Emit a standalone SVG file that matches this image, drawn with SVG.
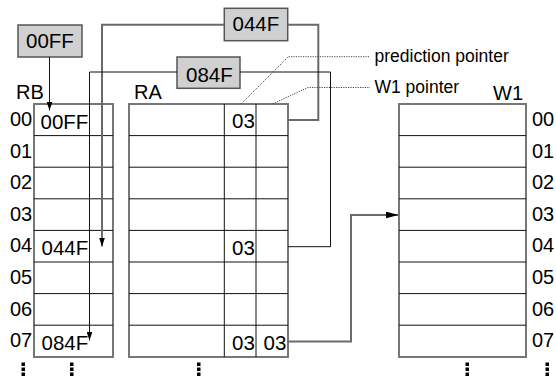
<svg xmlns="http://www.w3.org/2000/svg" width="556" height="381" viewBox="0 0 556 381">
  <style>
    text { font-family: "Liberation Sans", Arial, sans-serif; fill: #000; }
    .lbl { font-size: 20px; }
    .cell { font-size: 20.5px; }
    .note { font-size: 17.5px; }
    .frame { fill: #fff; stroke: #777; stroke-width: 2; }
    .grid { stroke: #111; stroke-width: 1; fill: none; }
    .box { fill: #d0d0d0; stroke: #555; stroke-width: 1.5; }
    .thin { stroke: #111; stroke-width: 1; fill: none; }
    .grey { stroke: #6a6a6a; stroke-width: 2; fill: none; }
    .dot { stroke: #444; stroke-width: 1; stroke-dasharray: 1.2 1.2; fill: none; }
    .ell { fill: #000; }
  </style>
  <defs>
    <marker id="tip" markerUnits="userSpaceOnUse" markerWidth="9" markerHeight="6" refX="9" refY="3" orient="auto" viewBox="0 0 9 6">
      <path d="M0,0 L9,3 L0,6 z" fill="#000"/>
    </marker>
    <marker id="tipL" markerUnits="userSpaceOnUse" markerWidth="13" markerHeight="7" refX="13" refY="3.5" orient="auto" viewBox="0 0 13 7">
      <path d="M0,0 L13,3.5 L0,7 z" fill="#000"/>
    </marker>
  </defs>

  <!-- RB table -->
  <g id="rb">
    <text class="lbl" x="16" y="99">RB</text>
    <rect class="frame" x="34" y="104" width="79" height="253"/>
    <path class="grid" d="M34,135.6H113M34,167.2H113M34,198.8H113M34,230.4H113M34,262H113M34,293.6H113M34,325.2H113"/>
    <g class="lbl">
      <text x="10" y="126">00</text>
      <text x="10" y="157.6">01</text>
      <text x="10" y="189.2">02</text>
      <text x="10" y="220.8">03</text>
      <text x="10" y="252.4">04</text>
      <text x="10" y="284">05</text>
      <text x="10" y="315.6">06</text>
      <text x="10" y="347.2">07</text>
    </g>
    <text class="cell" x="40.5" y="128.5">00FF</text>
    <text class="cell" x="41.5" y="254.5">044F</text>
    <text class="cell" x="41.5" y="350">084F</text>
  </g>

  <!-- RA table -->
  <g id="ra">
    <text class="lbl" x="134" y="99">RA</text>
    <rect class="frame" x="129" y="104" width="159" height="253"/>
    <path class="grid" d="M129,135.6H288M129,167.2H288M129,198.8H288M129,230.4H288M129,262H288M129,293.6H288M129,325.2H288M224.3,104V357M256,104V357"/>
    <text class="cell" x="232" y="128">03</text>
    <text class="cell" x="232" y="255">03</text>
    <text class="cell" x="232" y="349.5">03</text>
    <text class="cell" x="263.5" y="349.5">03</text>
  </g>

  <!-- W1 table -->
  <g id="w1">
    <text class="lbl" x="493" y="99.5">W1</text>
    <rect class="frame" x="399" y="104" width="127" height="253"/>
    <path class="grid" d="M399,135.6H526M399,167.2H526M399,198.8H526M399,230.4H526M399,262H526M399,293.6H526M399,325.2H526"/>
    <g class="lbl">
      <text x="532" y="126">00</text>
      <text x="532" y="157.6">01</text>
      <text x="532" y="189.2">02</text>
      <text x="532" y="220.8">03</text>
      <text x="532" y="252.4">04</text>
      <text x="532" y="284">05</text>
      <text x="532" y="315.6">06</text>
      <text x="532" y="347.2">07</text>
    </g>
  </g>

  <!-- address boxes -->
  <g id="box-00ff">
    <rect class="box" x="18" y="25" width="64" height="32"/>
    <text class="cell" x="26" y="48">00FF</text>
  </g>
  <g id="box-044f">
    <rect class="box" x="224.3" y="8.3" width="63.4" height="32.4"/>
    <text class="cell" x="232.5" y="31">044F</text>
  </g>
  <g id="box-084f">
    <rect class="box" x="177" y="57" width="63" height="31.3"/>
    <text class="cell" x="186" y="81.5">084F</text>
  </g>

  <!-- pointer notes -->
  <g id="notes">
    <text class="note" x="374.5" y="62">prediction pointer</text>
    <text class="note" x="374.5" y="93">W1 pointer</text>
  </g>

  <!-- connectors -->
  <g id="connectors">
    <path class="thin" d="M49.5,57V110.5" marker-end="url(#tip)"/>
    <path class="grey" d="M224.3,24.7H102V246.5" marker-end="url(#tip)"/>
    <path class="grey" d="M287.7,24.7H318.3V120H288"/>
    <path class="thin" d="M177,72H89.5V340.5" marker-end="url(#tip)"/>
    <path class="thin" d="M240,72H330.5V246.7H288"/>
    <path class="grey" d="M288,341.5H351V215H398.5" marker-end="url(#tipL)"/>
    <path class="dot" d="M241,104L288.3,56.7H370"/>
    <path class="dot" d="M272.5,104L308,87.5H370"/>
  </g>

  <!-- continuation marks -->
  <g id="ellipses" class="ell">
    <rect x="21.5" y="362.5" width="3.5" height="3.5"/><rect x="21.5" y="367.5" width="3.5" height="3.5"/><rect x="21.5" y="372.5" width="3.5" height="3.5"/>
    <rect x="70" y="362.5" width="3.5" height="3.5"/><rect x="70" y="367.5" width="3.5" height="3.5"/><rect x="70" y="372.5" width="3.5" height="3.5"/>
    <rect x="197" y="362.5" width="3.5" height="3.5"/><rect x="197" y="367.5" width="3.5" height="3.5"/><rect x="197" y="372.5" width="3.5" height="3.5"/>
    <rect x="465.5" y="362.5" width="3.5" height="3.5"/><rect x="465.5" y="367.5" width="3.5" height="3.5"/><rect x="465.5" y="372.5" width="3.5" height="3.5"/>
    <rect x="545.5" y="362.5" width="3.5" height="3.5"/><rect x="545.5" y="367.5" width="3.5" height="3.5"/><rect x="545.5" y="372.5" width="3.5" height="3.5"/>
  </g>
</svg>
